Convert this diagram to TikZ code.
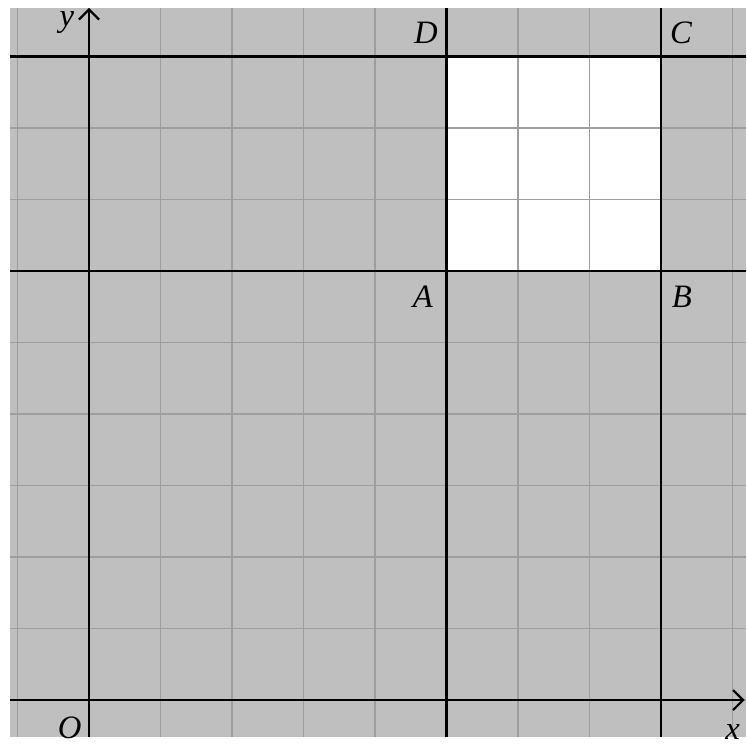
\documentclass[tikz,border=0pt]{standalone}
\usepackage{fontspec}
\setmainfont{Liberation Serif}
\usetikzlibrary{arrows.meta}
\begin{document}
\begin{tikzpicture}[x=1cm,y=1cm,
  gridline/.style={draw=black!38,line width=0.45pt},
  thickline/.style={draw=black,line width=0.9pt},
  lbl/.style={font=\fontsize{13}{13}\selectfont\itshape,inner sep=0pt}]
\useasboundingbox (-1.245,-0.657) rectangle (9.189,9.79);
\fill[black!25] (-1.1,-0.52) rectangle (9.189,9.68);
\fill[white] (5,6) rectangle (8,9);
\foreach \i in {-1,...,9} \draw[gridline] (\i,-0.52) -- (\i,9.68);
\foreach \j in {0,...,9} \draw[gridline] (-1.1,\j) -- (9.189,\j);
\draw[thickline] (5,-0.52) -- (5,9.68);
\draw[thickline] (8,-0.52) -- (8,9.68);
\draw[thickline] (-1.1,6) -- (9.189,6);
\draw[thickline] (-1.1,9) -- (9.189,9);
\coordinate (xs) at (-1.1,0);
\coordinate (xe) at (9.17,0);
\coordinate (ys) at (0,-0.52);
\coordinate (ye) at (0,9.68);
\draw[thickline,->,>={Straight Barb[length=4pt,width=8pt]}] (xs) -- (xe);
\draw[thickline,->,>={Straight Barb[length=4pt,width=8pt]}] (ys) -- (ye);
\node[lbl] (ly) at (-0.31,9.47) {y};
\node[lbl] (lo) at (-0.27,-0.39) {O};
\node[lbl] (lx) at (9.0,-0.45) {x};
\node[lbl] (ld) at (4.71,9.33) {D};
\node[lbl] (lc) at (8.28,9.33) {C};
\node[lbl] (la) at (4.67,5.64) {A};
\node[lbl] (lb) at (8.29,5.64) {B};
\end{tikzpicture}
\end{document}
